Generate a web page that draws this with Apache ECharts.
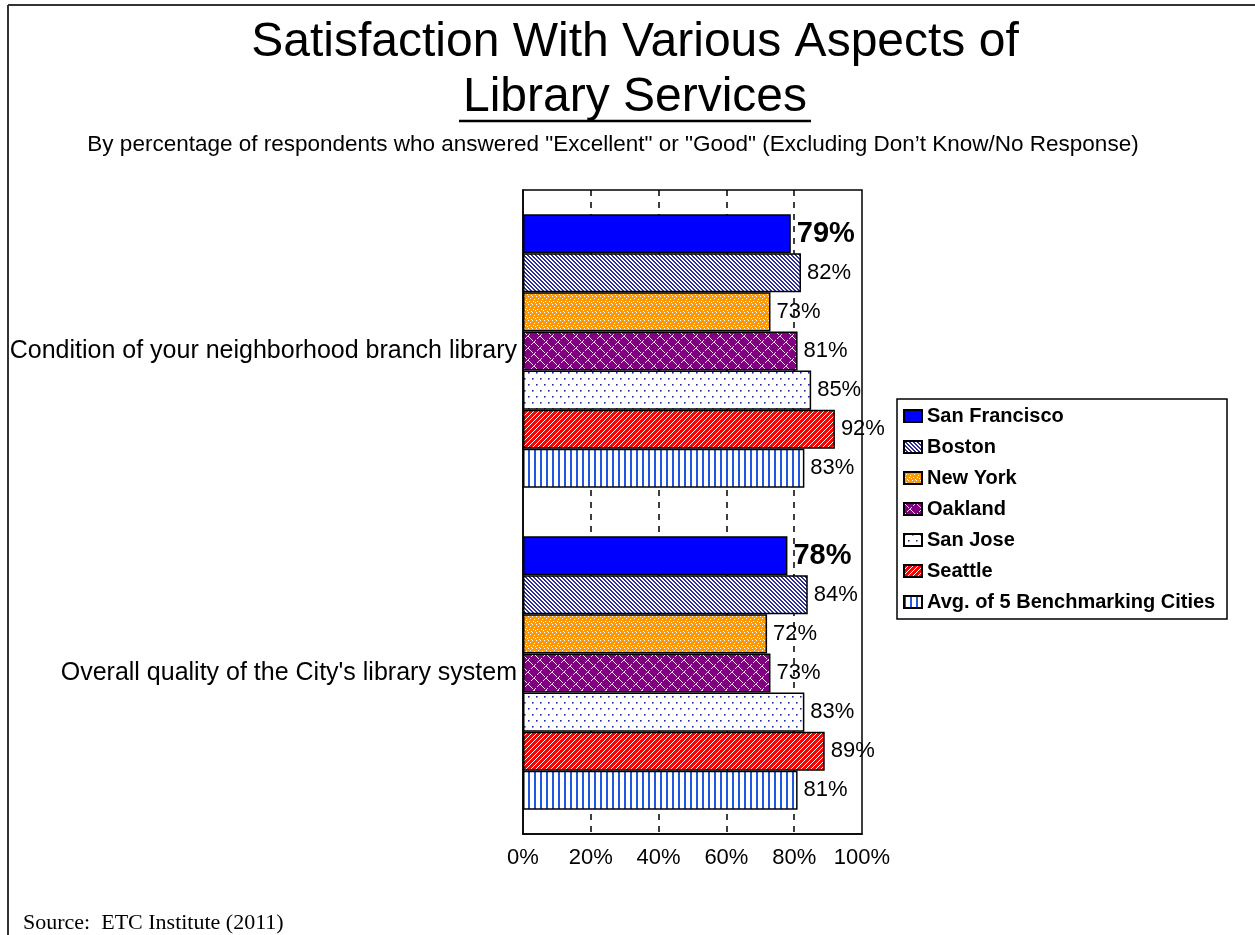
<!DOCTYPE html>
<html>
<head>
<meta charset="utf-8">
<script src="https://cdn.jsdelivr.net/npm/echarts@6/dist/echarts.min.js"></script>
<style>
  html, body { margin: 0; padding: 0; background: #fff; }
  #chart { width: 1255px; height: 935px; }
</style>
</head>
<body>
<div id="chart"></div>
<script>
// Survey items (top to bottom) and cities
const categories = [
  'Condition of your neighborhood branch library',
  "Overall quality of the City's library system"
];
const cityNames = [
  'San Francisco', 'Boston', 'New York', 'Oakland',
  'San Jose', 'Seattle', 'Avg. of 5 Benchmarking Cities'
];

// Percent answering "Excellent" or "Good", one value per survey item
const sanFrancisco = [79, 78];
const boston       = [82, 84];
const newYork      = [73, 72];
const oakland      = [81, 73];
const sanJose      = [85, 83];
const seattle      = [92, 89];
const benchmarkAvg = [83, 81];

// Value axis ticks (percent)
const xTicks = [0, 20, 40, 60, 80, 100];

const FONT = '"Liberation Sans", Arial, sans-serif';

// --- fill patterns -------------------------------------------------------
function tile(w, h, bg, paint) {
  const c = document.createElement('canvas');
  c.width = w; c.height = h;
  const g = c.getContext('2d');
  g.fillStyle = bg;
  g.fillRect(0, 0, w, h);
  paint(g);
  return { image: c, repeat: 'repeat' };
}
function dots(g, color, pts, s) {
  g.fillStyle = color;
  pts.forEach(([x, y]) => g.fillRect(x, y, s || 1, s || 1));
}

const solidBlue = '#0000FF';

const bostonFill = tile(4, 4, '#ffffff', g => {
  const p = [];
  for (let i = 0; i < 4; i++) { p.push([i, i]); p.push([(i + 1) % 4, i]); }
  dots(g, '#2E2E96', p);
});

const newYorkFill = tile(8, 8, '#FF9900', g => {
  dots(g, '#ffffff', [[0,0],[4,0],[2,2],[6,3],[1,5],[5,5],[3,7],[7,6]]);
});

// dashed white trellis on purple
const oaklandFill = tile(12, 12, '#800080', g => {
  const p = [];
  for (let i = 0; i < 12; i++) {
    if (i % 6 !== 5) p.push([i, i]);
    if ((i + 3) % 6 !== 5) p.push([i, 11 - i]);
  }
  dots(g, '#F0D8F0', p);
});

const sanJoseFill = tile(8, 12, '#ffffff', g => {
  dots(g, '#2A2AA0', [[0, 0], [4, 6]], 1.6);
});

const seattleFill = tile(5, 5, '#FF0000', g => {
  const p = [];
  for (let i = 0; i < 5; i++) p.push([i, 4 - i]);
  dots(g, '#ffffff', p);
});

const avgFill = tile(6, 1, '#ffffff', g => {
  g.fillStyle = '#2158E0';
  g.fillRect(0, 0, 2, 1);
});

const fills = [solidBlue, bostonFill, newYorkFill, oaklandFill, sanJoseFill, seattleFill, avgFill];
const seriesValues = [sanFrancisco, boston, newYork, oakland, sanJose, seattle, benchmarkAvg];

// --- chart ---------------------------------------------------------------
const chart = echarts.init(document.getElementById('chart'), null, { renderer: 'canvas' });

const series = cityNames.map((name, i) => ({
  type: 'bar',
  name: name,
  data: seriesValues[i],
  barGap: '0%',
  barCategoryGap: '15%',
  itemStyle: { color: fills[i], borderColor: '#000', borderWidth: 1.5 },
  label: {
    show: true,
    position: 'right',
    distance: 6,
    formatter: '{c}%',
    color: '#000',
    fontFamily: FONT,
    fontSize: i === 0 ? 29 : 22,
    fontWeight: i === 0 ? 'bold' : 'normal'
  },
  emphasis: { disabled: true }
}));

chart.setOption({
  backgroundColor: '#fff',
  animation: false,
  grid: {
    left: 523, top: 190, width: 339, height: 644,
    show: true, borderColor: '#000', borderWidth: 1.5, backgroundColor: 'transparent'
  },
  xAxis: {
    type: 'value',
    min: xTicks[0],
    max: xTicks[xTicks.length - 1],
    interval: xTicks[1] - xTicks[0],
    axisLine: { show: true, lineStyle: { color: '#000', width: 1.5 } },
    axisTick: { show: false },
    axisLabel: { formatter: v => v + '%', color: '#000', fontSize: 22, fontFamily: FONT, margin: 13 },
    splitLine: { show: true, showMinLine: false, showMaxLine: false,
                 lineStyle: { color: '#000', width: 1.5, type: [6, 6] } }
  },
  yAxis: {
    type: 'category',
    data: categories,
    inverse: true,
    axisLine: { show: true, lineStyle: { color: '#000', width: 1.5 } },
    axisTick: { show: false },
    axisLabel: { color: '#000', fontSize: 25, fontFamily: FONT, margin: 6 }
  },
  legend: {
    orient: 'vertical',
    left: 903,
    top: 405,
    padding: 0,
    itemWidth: 18,
    itemHeight: 12,
    itemGap: 9,
    icon: 'rect',
    selectedMode: false,
    data: cityNames,
    textStyle: { color: '#000', fontSize: 20, fontWeight: 'bold', fontFamily: FONT, lineHeight: 22 }
  },
  series: series,
  graphic: [
    // page frame (top and left edges)
    { type: 'line', silent: true, shape: { x1: 8, y1: 5, x2: 1255, y2: 5 }, style: { stroke: '#333', lineWidth: 2 } },
    { type: 'line', silent: true, shape: { x1: 8, y1: 5, x2: 8, y2: 935 }, style: { stroke: '#333', lineWidth: 2 } },
    // title
    { type: 'text', silent: true, x: 635, y: 43,
      style: { text: 'Satisfaction With Various Aspects of', fill: '#000', font: '48px ' + FONT, align: 'center', verticalAlign: 'middle' } },
    { type: 'text', silent: true, x: 635, y: 98,
      style: { text: 'Library Services', fill: '#000', font: '48px ' + FONT, align: 'center', verticalAlign: 'middle' } },
    { type: 'line', silent: true, shape: { x1: 459, y1: 121, x2: 811, y2: 121 }, style: { stroke: '#000', lineWidth: 2.5 } },
    { type: 'text', silent: true, x: 613, y: 145,
      style: { text: 'By percentage of respondents who answered "Excellent" or "Good" (Excluding Don\u2019t Know/No Response)',
               fill: '#000', font: '22.5px ' + FONT, align: 'center', verticalAlign: 'middle' } },
    // legend frame
    { type: 'rect', silent: true, z: -1, shape: { x: 897, y: 399, width: 330, height: 220 },
      style: { fill: '#fff', stroke: '#000', lineWidth: 1.5 } },
    // source note
    { type: 'text', silent: true, x: 23, y: 923,
      style: { text: 'Source:  ETC Institute (2011)', fill: '#000', font: '22px "Liberation Serif", "Times New Roman", serif', align: 'left', verticalAlign: 'middle' } }
  ]
});
</script>
</body>
</html>
